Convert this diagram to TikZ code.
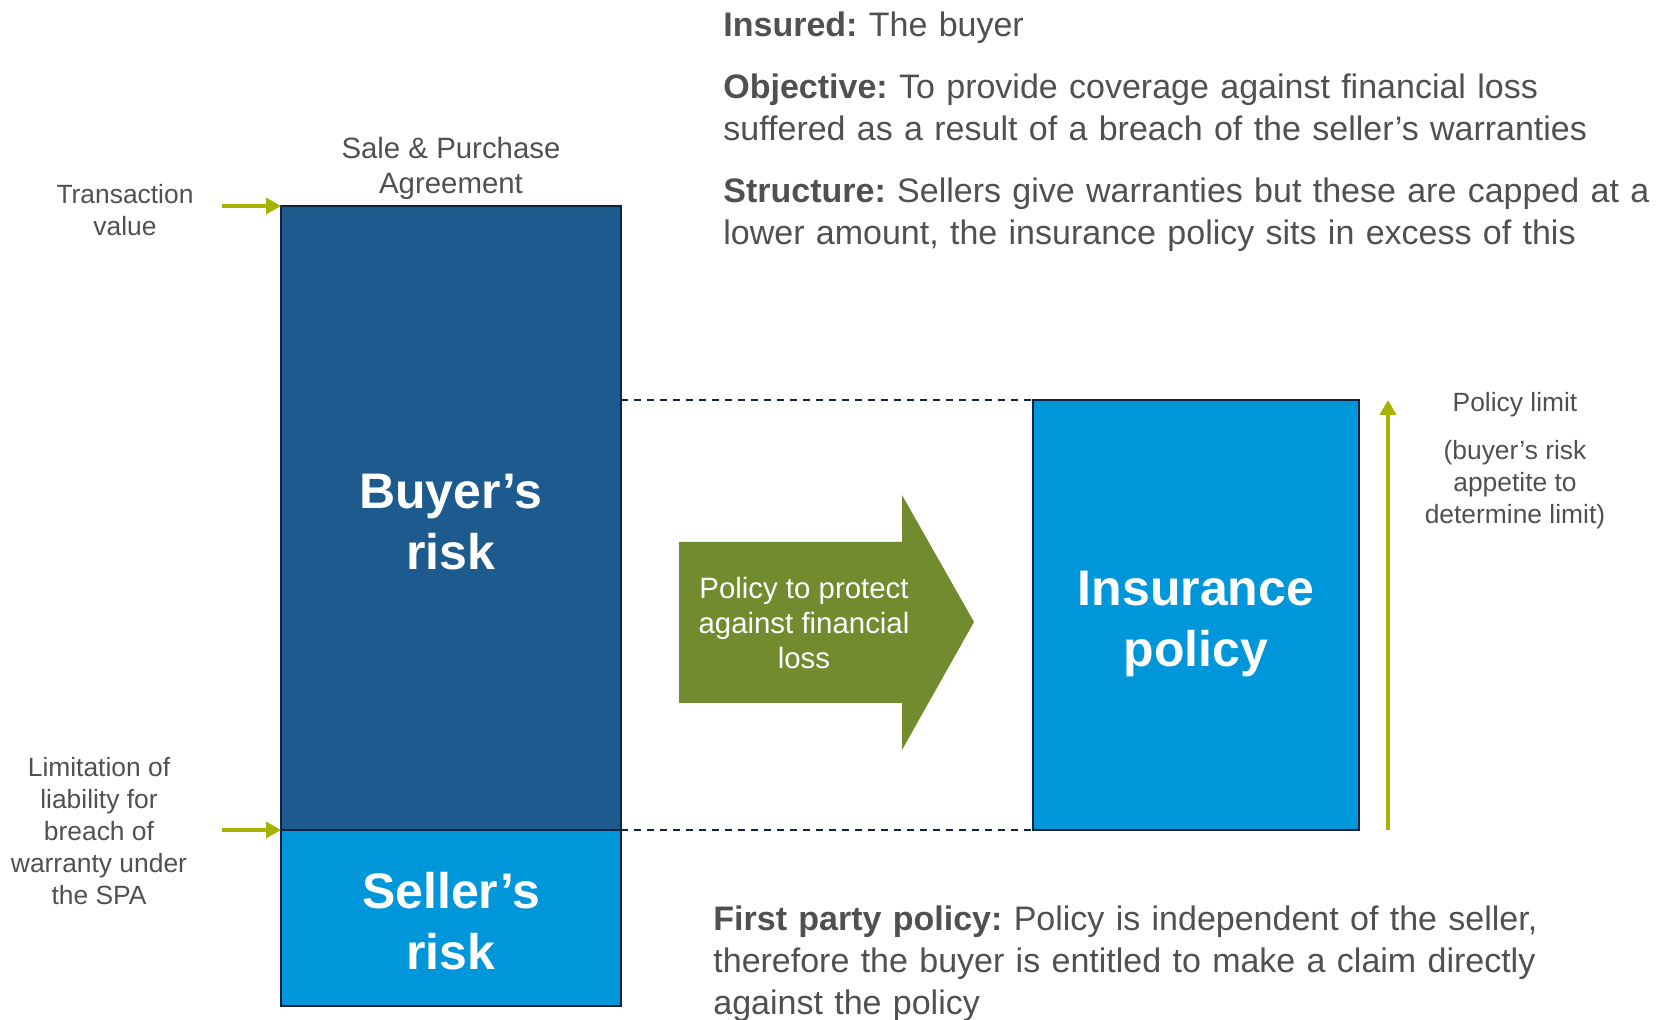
\documentclass[tikz,border=0pt]{standalone}
\usepackage{fontspec}
\setmainfont{Liberation Sans}
\usetikzlibrary{arrows.meta,positioning}

\definecolor{riskblue}{RGB}{29,91,143}
\definecolor{policyblue}{RGB}{0,150,218}
\definecolor{edgenavy}{RGB}{13,36,66}
\definecolor{arrowgreen}{RGB}{113,139,46}
\definecolor{pointer}{RGB}{168,178,0}
\definecolor{txtgray}{RGB}{80,80,80}

\begin{document}
\frenchspacing
\begin{tikzpicture}
  [x=0.5pt, y=-0.5pt,
    box/.style={draw=edgenavy, line width=1pt, inner sep=0pt, outer sep=0pt,
      text=white, align=center, minimum width=170pt,
      text height=52pt, text depth=0pt,
      font=\fontsize{25}{30.5}\selectfont\bfseries},
    side/.style={text=txtgray, align=center, font=\fontsize{13.2}{16}\selectfont},
    head/.style={text=txtgray, align=center, font=\fontsize{14.7}{17.5}\selectfont},
    body/.style={text=txtgray, anchor=base west, text width=480pt, align=left,
      inner sep=0pt, font=\fontsize{17}{21}\selectfont},
    marker/.style={draw=pointer, line width=2pt, -{Triangle[length=7.5pt,width=8pt]}},
    level/.style={draw=edgenavy, line width=1pt, dash pattern=on 3.5pt off 3pt}]

  \useasboundingbox (0,0) rectangle (1667,1020);

  % risk split of the deal
  \node[box, fill=riskblue, minimum height=312pt] (buyer) at (451,518) {Buyer’s\\risk};
  \node[box, fill=policyblue, minimum height=88pt, below=0pt of buyer] (seller) {Seller’s\\risk};
  \node[box, fill=policyblue, minimum width=163pt, minimum height=215pt] (policy) at (1196,615) {Insurance\\policy};

  \draw[level] (buyer.east |- policy.north west) -- (policy.north west);
  \draw[level] (buyer.south east) -- (policy.south west);

  % big arrow in between
  \fill[arrowgreen] (679,542) -- (902,542) -- (902,495) -- (974,622)
    -- (902,750) -- (902,703) -- (679,703) -- cycle;
  \node[text=white, align=center, font=\fontsize{14.7}{17.5}\selectfont] (protect) at (804,623)
    {Policy to protect\\against financial\\loss};

  % side markers
  \coordinate (tvfoot) at (222,206);
  \coordinate (capfoot) at (222,830);
  \draw[marker] (tvfoot) -- (buyer.north west);
  \draw[marker] (capfoot) -- (buyer.south west);
  \draw[marker] ([xshift=14.5pt]policy.south east) -- ([xshift=14.5pt]policy.north east);

  \node[side] (tvlabel) at (125,210) {Transaction\\value};
  \node[side] (caplabel) at (99,831) {Limitation of\\liability for\\breach of\\warranty under\\the SPA};
  \node[head] (spa) at (451,168) {Sale \& Purchase\\Agreement};
  \node[side] (limit) at (1515,405) {Policy limit};
  \node[side] (appetite) at (1515,485) {(buyer’s risk\\appetite to\\determine limit)};

  % notes
  \node[body] (insured) at (723,37) {\textbf{Insured:} The buyer};
  \node[body] (objective) at (723,99) {\textbf{Objective:} To provide coverage against financial loss\\
    suffered as a result of a breach of the seller’s warranties};
  \node[body] (structure) at (723,203) {\textbf{Structure:} Sellers give warranties but these are capped at a\\
    lower amount, the insurance policy sits in excess of this};
  \node[body] (firstparty) at (713,931) {\textbf{First party policy:} Policy is independent of the seller,\\
    therefore the buyer is entitled to make a claim directly\\against the policy};

\end{tikzpicture}
\end{document}
